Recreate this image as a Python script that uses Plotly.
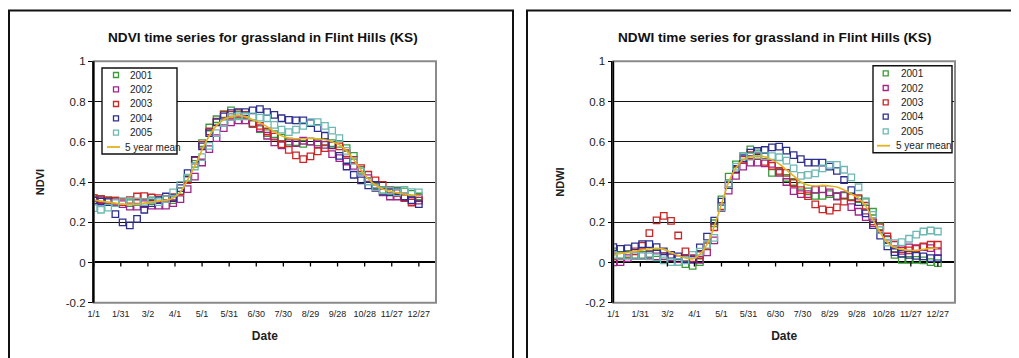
import plotly.graph_objects as go

W, H = 1019, 358
OFF = 8  # page body margin in the browser

# ---------------- data ----------------
DOY = [1, 9, 17, 25, 33, 41, 49, 57, 65, 73, 81, 89, 97, 105, 113, 121, 129, 137, 145, 153, 161, 169, 177,
       185, 193, 201, 209, 217, 225, 233, 241, 249, 257, 265, 273, 281, 289, 297, 305, 313, 321, 329, 337,
       345, 353, 361]
TICK_DAYS = [1, 31, 61, 91, 121, 151, 181, 211, 241, 271, 301, 331, 361]
TICK_LABELS = ["1/1", "1/31", "3/2", "4/1", "5/1", "5/31", "6/30", "7/30", "8/29", "9/28", "10/28", "11/27", "12/27"]
YEARS = ["2001", "2002", "2003", "2004", "2005"]
MEAN_NAME = "5 year mean"

NDVI_2001 = [0.32, 0.316, 0.31, 0.307, 0.30, 0.295, 0.30, 0.30, 0.305, 0.31, 0.315, 0.31, 0.356, 0.42, 0.49,
             0.593, 0.671, 0.712, 0.737, 0.756, 0.734, 0.729, 0.688, 0.663, 0.643, 0.638, 0.621, 0.601, 0.598,
             0.59, 0.601, 0.597, 0.597, 0.593, 0.59, 0.568, 0.53, 0.46, 0.403, 0.378, 0.361, 0.353, 0.358,
             0.353, 0.341, 0.328]
NDVI_2002 = [0.31, 0.31, 0.305, 0.30, 0.29, 0.278, 0.278, 0.29, 0.283, 0.283, 0.283, 0.295, 0.315, 0.365,
             0.427, 0.497, 0.563, 0.618, 0.668, 0.696, 0.706, 0.706, 0.69, 0.668, 0.63, 0.597, 0.582, 0.593,
             0.593, 0.605, 0.601, 0.588, 0.585, 0.539, 0.519, 0.502, 0.48, 0.452, 0.419, 0.37, 0.348, 0.328,
             0.328, 0.325, 0.307, 0.307]
NDVI_2003 = [0.32, 0.315, 0.307, 0.307, 0.30, 0.31, 0.328, 0.33, 0.323, 0.32, 0.316, 0.325, 0.353, 0.41,
             0.507, 0.585, 0.651, 0.70, 0.734, 0.734, 0.742, 0.734, 0.693, 0.679, 0.651, 0.626, 0.588, 0.56,
             0.532, 0.514, 0.527, 0.552, 0.568, 0.582, 0.577, 0.543, 0.51, 0.469, 0.436, 0.408, 0.386, 0.361,
             0.345, 0.32, 0.298, 0.32]
NDVI_2004 = [0.307, 0.303, 0.30, 0.24, 0.199, 0.184, 0.217, 0.262, 0.295, 0.31, 0.328, 0.32, 0.37, 0.444,
             0.51, 0.577, 0.643, 0.696, 0.726, 0.742, 0.747, 0.747, 0.756, 0.762, 0.747, 0.734, 0.717, 0.709,
             0.706, 0.706, 0.693, 0.668, 0.63, 0.585, 0.53, 0.477, 0.436, 0.408, 0.383, 0.386, 0.353, 0.348,
             0.353, 0.328, 0.31, 0.29]
NDVI_2005 = [0.27, 0.262, 0.273, 0.295, 0.305, 0.303, 0.303, 0.30, 0.31, 0.30, 0.315, 0.348, 0.386, 0.422,
             0.477, 0.524, 0.58, 0.643, 0.693, 0.722, 0.726, 0.726, 0.726, 0.72, 0.717, 0.684, 0.66, 0.648,
             0.66, 0.679, 0.698, 0.698, 0.679, 0.655, 0.618, 0.555, 0.505, 0.452, 0.403, 0.373, 0.358, 0.358,
             0.348, 0.361, 0.35, 0.348]
NDVI_MEAN = [0.31, 0.305, 0.30, 0.295, 0.29, 0.29, 0.29, 0.295, 0.30, 0.305, 0.31, 0.32, 0.35, 0.41, 0.48,
             0.56, 0.63, 0.68, 0.71, 0.725, 0.73, 0.725, 0.71, 0.695, 0.675, 0.65, 0.63, 0.618, 0.615, 0.615,
             0.617, 0.615, 0.61, 0.60, 0.585, 0.555, 0.51, 0.46, 0.415, 0.385, 0.365, 0.355, 0.345, 0.34,
             0.335, 0.33]

NDWI_2001 = [0.055, 0.038, 0.043, 0.038, 0.038, 0.043, 0.046, 0.033, 0.027, 0.002, -0.008, -0.017, 0.002,
             0.085, 0.195, 0.314, 0.427, 0.488, 0.529, 0.562, 0.542, 0.53, 0.445, 0.45, 0.42, 0.40, 0.381,
             0.353, 0.331, 0.331, 0.34, 0.331, 0.331, 0.328, 0.315, 0.30, 0.252, 0.179, 0.113, 0.038, 0.013,
             0.013, 0.013, 0.01, 0.002, -0.003]
NDWI_2002 = [0.0, 0.002, 0.022, 0.033, 0.033, 0.038, 0.03, 0.03, 0.025, 0.017, 0.022, 0.013, 0.013, 0.05,
             0.11, 0.27, 0.357, 0.43, 0.476, 0.496, 0.496, 0.493, 0.49, 0.445, 0.40, 0.355, 0.34, 0.34, 0.361,
             0.365, 0.348, 0.328, 0.335, 0.275, 0.252, 0.225, 0.196, 0.162, 0.116, 0.066, 0.058, 0.075, 0.071,
             0.076, 0.071, 0.051]
NDWI_2003 = [0.03, 0.03, 0.038, 0.055, 0.083, 0.146, 0.209, 0.232, 0.207, 0.134, 0.055, 0.022, 0.037, 0.08,
             0.175, 0.28, 0.39, 0.46, 0.51, 0.534, 0.529, 0.50, 0.48, 0.455, 0.445, 0.395, 0.36, 0.33, 0.289,
             0.264, 0.258, 0.274, 0.302, 0.324, 0.32, 0.282, 0.204, 0.174, 0.129, 0.088, 0.066, 0.06, 0.068,
             0.08, 0.088, 0.088]
NDWI_2004 = [0.076, 0.068, 0.07, 0.08, 0.091, 0.091, 0.076, 0.055, 0.038, 0.03, 0.017, 0.017, 0.075, 0.128,
             0.208, 0.302, 0.385, 0.465, 0.518, 0.546, 0.554, 0.559, 0.572, 0.576, 0.556, 0.534, 0.514, 0.496,
             0.496, 0.496, 0.476, 0.455, 0.41, 0.36, 0.30, 0.244, 0.186, 0.133, 0.08, 0.051, 0.043, 0.038,
             0.033, 0.03, 0.022, 0.022]
NDWI_2005 = [0.038, 0.033, 0.033, 0.033, 0.033, 0.03, 0.025, 0.01, 0.002, 0.002, 0.01, 0.038, 0.054, 0.087,
             0.122, 0.274, 0.39, 0.476, 0.529, 0.526, 0.534, 0.529, 0.529, 0.523, 0.506, 0.468, 0.43, 0.435,
             0.443, 0.468, 0.485, 0.485, 0.461, 0.423, 0.374, 0.305, 0.237, 0.162, 0.099, 0.096, 0.101, 0.118,
             0.138, 0.154, 0.159, 0.154]
NDWI_MEAN = [0.04, 0.045, 0.05, 0.055, 0.062, 0.068, 0.07, 0.065, 0.05, 0.035, 0.022, 0.018, 0.04, 0.09,
             0.18, 0.29, 0.40, 0.47, 0.51, 0.525, 0.53, 0.525, 0.51, 0.49, 0.46, 0.43, 0.40, 0.385, 0.38,
             0.383, 0.38, 0.375, 0.36, 0.34, 0.32, 0.28, 0.21, 0.15, 0.10, 0.075, 0.065, 0.06, 0.06, 0.065,
             0.07, 0.07]

NDVI_SERIES = [NDVI_2001, NDVI_2002, NDVI_2003, NDVI_2004, NDVI_2005]
NDWI_SERIES = [NDWI_2001, NDWI_2002, NDWI_2003, NDWI_2004, NDWI_2005]

# ---------------- style ----------------
COLORS = ["#3A9A3A", "#A0248C", "#CC2525", "#2E2E8E", "#6CB8B4"]
MEAN_COLOR = "#E3B21E"
FONT = "Arial, Liberation Sans, sans-serif"
TXT = "#222"


def px(x):
    """screen pixel x -> paper fraction"""
    return (x - OFF) / W


def py(y):
    """screen pixel y -> paper fraction"""
    return 1 - (y - OFF) / H


fig = go.Figure()


def add_panel(series, mean, xa, ya):
    for name, vals, col in zip(YEARS, series, COLORS):
        fig.add_trace(go.Scatter(
            x=DOY, y=vals, name=name, mode="markers", xaxis=xa, yaxis=ya, showlegend=False,
            marker=dict(symbol="square-open", size=6.5, color=col, line=dict(width=1.3, color=col)),
        ))
    fig.add_trace(go.Scatter(
        x=DOY, y=mean, name=MEAN_NAME, mode="lines", xaxis=xa, yaxis=ya, showlegend=False,
        line=dict(color=MEAN_COLOR, width=1.6, shape="spline"),
    ))


add_panel(NDVI_SERIES, NDVI_MEAN, "x", "y")
add_panel(NDWI_SERIES, NDWI_MEAN, "x2", "y2")

ydom = [py(302.7), py(61.3)]
xdom1 = [px(93.7), px(436)]
xdom2 = [px(613.3), px(955)]

xcommon = dict(range=[1, 380], tickvals=TICK_DAYS, ticktext=TICK_LABELS, ticks="", showline=False,
               showgrid=False, zeroline=False, automargin=False, ticklabelstandoff=4,
               tickfont=dict(family=FONT, size=9, color=TXT),
               title=dict(text="<b>Date</b>", font=dict(family=FONT, size=12, color=TXT), standoff=13))
ycommon = dict(range=[-0.2, 1], tickvals=[-0.2, 0, 0.2, 0.4, 0.6, 0.8, 1],
               ticktext=["-0.2", "0", "0.2", "0.4", "0.6", "0.8", "1"], automargin=False,
               showgrid=True, gridcolor="#111", gridwidth=1.3, zeroline=True, zerolinecolor="#000",
               zerolinewidth=1.6, showline=True, linecolor="#000", linewidth=1.6, ticks="outside",
               ticklen=4, tickcolor="#000", tickwidth=1.3, tickfont=dict(family=FONT, size=11.5, color=TXT))

fig.update_layout(
    template="none",
    width=W, height=H, margin=dict(l=0, r=0, t=0, b=0, pad=0, autoexpand=False),
    paper_bgcolor="white", plot_bgcolor="white", showlegend=False,
    font=dict(family=FONT, color=TXT),
    xaxis=dict(domain=xdom1, anchor="y", **xcommon),
    yaxis=dict(domain=ydom, anchor="x",
               title=dict(text="<b>NDVI</b>", font=dict(family=FONT, size=11, color=TXT), standoff=19),
               **ycommon),
    xaxis2=dict(domain=xdom2, anchor="y2", **xcommon),
    yaxis2=dict(domain=ydom, anchor="x2",
                title=dict(text="<b>NDWI</b>", font=dict(family=FONT, size=11, color=TXT), standoff=19),
                **ycommon),
)

# titles
fig.add_annotation(text="<b>NDVI time series for grassland in Flint Hills (KS)</b>", xref="paper",
                   yref="paper", x=px(262.5), y=py(37.5), xanchor="center", yanchor="middle",
                   showarrow=False, font=dict(family=FONT, size=13.6, color="#111"))
fig.add_annotation(text="<b>NDWI time series for grassland in Flint Hills (KS)</b>", xref="paper",
                   yref="paper", x=px(774.5), y=py(37.5), xanchor="center", yanchor="middle",
                   showarrow=False, font=dict(family=FONT, size=13.6, color="#111"))

# plot-area borders (gray), y axis line, tick marks on the zero axis
for xa, ya in (("x", "y"), ("x2", "y2")):
    fig.add_shape(type="rect", xref=f"{xa} domain", yref=f"{ya} domain", x0=0, x1=1, y0=0, y1=1,
                  line=dict(color="#8A8A8A", width=2), layer="above")
    fig.add_shape(type="line", xref=f"{xa} domain", yref=f"{ya} domain", x0=0, x1=0, y0=0, y1=1,
                  line=dict(color="#000", width=1.6), layer="above")
    for t in TICK_DAYS:
        fig.add_shape(type="line", xref=xa, yref=ya, ysizemode="pixel", yanchor=0, x0=t, x1=t, y0=0, y1=-4,
                      line=dict(color="#000", width=1.3), layer="above")

# outer chart frames (cut off by the picture edges, as in the original)
FRAME = dict(color="#111", width=2)
fig.add_shape(type="path", xref="paper", yref="paper",
              path=f"M {px(9)} 0 L {px(9)} {py(10.5)} L {px(513)} {py(10.5)} L {px(513)} 0", line=FRAME)
fig.add_shape(type="path", xref="paper", yref="paper",
              path=f"M {px(527)} 0 L {px(527)} {py(10.5)} L 1 {py(10.5)}", line=FRAME)


# legends (drawn as boxes with sample marks and text)
def draw_legend(box, marker_x, text_x, row_ys, line_x, mean_text_x):
    x0, y0, x1, y1 = box
    fig.add_shape(type="rect", xref="paper", yref="paper", x0=px(x0), x1=px(x1), y0=py(y1), y1=py(y0),
                  line=dict(color="#111", width=1.4), fillcolor="white", layer="above")
    for name, col, yy in zip(YEARS, COLORS, row_ys[:5]):
        fig.add_shape(type="rect", xref="paper", yref="paper",
                      x0=px(marker_x - 2.5), x1=px(marker_x + 2.5), y0=py(yy + 2.5), y1=py(yy - 2.5),
                      line=dict(color=col, width=1.3), layer="above")
        fig.add_annotation(text=name, xref="paper", yref="paper", x=px(text_x), y=py(yy),
                           xanchor="left", yanchor="middle", showarrow=False,
                           font=dict(family=FONT, size=10, color=TXT))
    ym = row_ys[5]
    fig.add_shape(type="line", xref="paper", yref="paper", x0=px(line_x[0]), x1=px(line_x[1]),
                  y0=py(ym), y1=py(ym), line=dict(color=MEAN_COLOR, width=1.8), layer="above")
    fig.add_annotation(text=MEAN_NAME, xref="paper", yref="paper", x=px(mean_text_x), y=py(ym),
                       xanchor="left", yanchor="middle", showarrow=False,
                       font=dict(family=FONT, size=10, color=TXT))


draw_legend((102, 68, 177, 154), 116, 128, [75, 89.3, 104, 118.3, 132.7, 147], (107, 120), 123)
draw_legend((873, 65.7, 952, 152.7), 885.7, 899, [73.3, 88, 102.3, 116.7, 131.3, 145.7], (877, 890), 894)

fig.write_html("out.html")
